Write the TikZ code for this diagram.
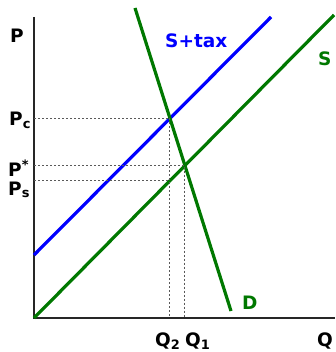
\documentclass[tikz,border=0pt]{standalone}
\usepackage{fontspec}
\setmainfont{DejaVu Sans}
\usetikzlibrary{intersections,calc}
\definecolor{curvegreen}{RGB}{0,120,0}

\begin{document}
\begin{tikzpicture}[
  x=1pt, y=-1pt,
  font=\fontsize{18.5}{22}\selectfont\bfseries,
  lbl/.style={anchor=base west, inner sep=0pt},
  ax/.style={line width=2.2pt, black!85},
  crv/.style={line width=3.2pt},
  guide/.style={line width=1pt, black!65, dash pattern=on 2pt off 2pt}
]
\useasboundingbox (0,0) rectangle (335,352);
% axes
\coordinate (o) at (34,318);
\coordinate (ytop) at (34,17);
\coordinate (xend) at (335,318);
\draw[ax] (ytop) -- (o) -- (xend);
% curves
\draw[crv, curvegreen, name path=S] (o) -- (334,15);
\draw[crv, blue, name path=Stax] (34,255) -- (271,17);
\draw[crv, curvegreen, name path=D] (135,8) -- (231,311);
% equilibria
\path[name intersections={of=D and Stax, by=ec}];
\path[name intersections={of=D and S, by=eq}];
\path[name path=vq] (ec) -- (ec |- o);
\path[name intersections={of=S and vq, by=es}];
\draw[guide] (ec -| o) -- (ec) -- (ec |- o);
\draw[guide] (eq -| o) -- (eq) -- (eq |- o);
\draw[guide] (es -| o) -- (es);
% labels
\node[lbl] (p) at (10,43) {P};
\node[lbl] (pc) at (9,126) {P\textsubscript{c}};
\node[lbl] (pstar) at (8,176) {P\textsuperscript{*}};
\node[lbl] (ps) at (8,195) {P\textsubscript{s}};
\node[lbl] (q2) at (155,346) {Q\textsubscript{2}};
\node[lbl] (q1) at (185,346) {Q\textsubscript{1}};
\node[lbl] (q) at (317,346) {Q};
\node[lbl, blue] (ltax) at (165,48) {S+tax};
\node[lbl, curvegreen] (ls) at (318,66) {S};
\node[lbl, curvegreen] (ld) at (242,309) {D};
\end{tikzpicture}
\end{document}
